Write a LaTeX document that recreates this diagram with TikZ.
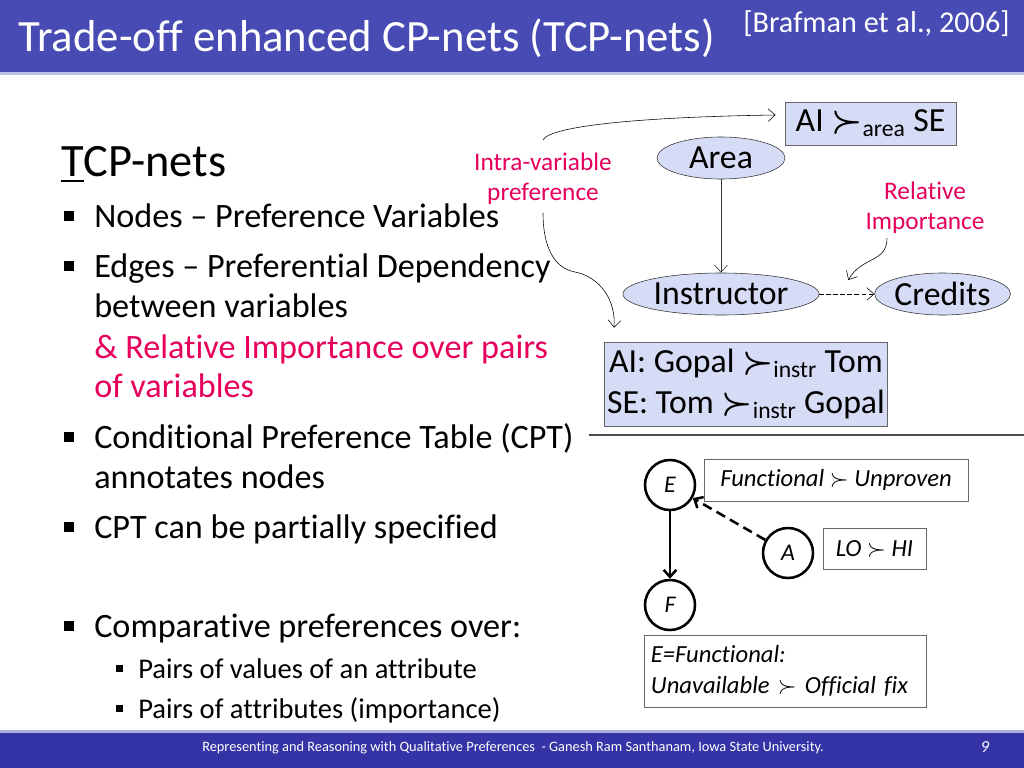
\documentclass[tikz,border=0pt]{standalone}
\usepackage{amsmath}
\usepackage{bm}
\usepackage{fontspec}
\setmainfont{Carlito}[Ligatures=NoCommon]
\usetikzlibrary{calc, positioning, arrows.meta, shapes.geometric}

\definecolor{barblue}{RGB}{72,75,180}
\definecolor{footblue}{RGB}{52,52,166}
\definecolor{nodeblue}{RGB}{214,220,245}
\definecolor{notepink}{RGB}{230,0,92}

\newcommand{\pref}{\mathrel{\bm{\succ}}}

\tikzset{
    var/.style={ellipse, draw=black!80, fill=nodeblue, inner sep=0pt, minimum height=1.05cm, font=\fontsize{24}{28}\selectfont},
    cpt/.style={draw=black!60, fill=nodeblue, inner sep=2pt, align=center, font=\fontsize{24}{29}\selectfont},
    note/.style={text=notepink, align=center, font=\fontsize{18}{21.3}\selectfont},
    attr/.style={circle, draw, line width=1.8pt, minimum size=1.25cm, inner sep=0pt, font=\fontsize{17}{20}\selectfont\itshape},
    tbl/.style={draw=black!60, inner sep=2pt, font=\fontsize{17.5}{21.5}\selectfont\itshape},
    item/.style={anchor=base west, inner sep=0pt, font=\fontsize{24.3}{28}\selectfont},
    subitem/.style={anchor=base west, inner sep=0pt, font=\fontsize{20.3}{24}\selectfont},
    tip/.style={-{Straight Barb[length=5pt,width=9pt]}}
}

\begin{document}
\begin{tikzpicture}[x=0.025cm, y=-0.025cm]
    \useasboundingbox (0,0) rectangle (1024,768);

    % title bar
    \fill[barblue] (0,0) rectangle (1024,72);
    \fill[barblue!35] (0,72) rectangle (1024,75);
    \node[anchor=base west, inner sep=0pt, text=white, font=\fontsize{31.8}{36}\selectfont] (title) at (18,52) {Trade-off enhanced CP-nets (TCP-nets)};
    \node[anchor=base west, inner sep=0pt, text=white, font=\fontsize{21.5}{26}\selectfont] (cite) at (743,33) {[Brafman et al., 2006]};

    % footer bar
    \fill[footblue!40] (0,730) rectangle (1024,733);
    \fill[footblue] (0,733) rectangle (1024,768);
    \node[text=white, font=\fontsize{10.2}{12}\selectfont] (foot) at (513,748) {Representing and Reasoning with Qualitative Preferences \ - Ganesh Ram Santhanam, Iowa State University.};
    \node[text=white, font=\fontsize{12}{14}\selectfont\itshape] (page) at (985,747) {9};

    % heading
    \node[anchor=base west, inner sep=0pt, font=\fontsize{33}{38}\selectfont] (head) at (61,176) {\underline{T}CP-nets};

    %draw bullets
    \foreach \y in {216,266,437,527,626}
        \fill (64,\y-5) rectangle (74,\y+5);
    \foreach \y in {668,708}
        \fill (116,\y-3.5) rectangle (123,\y+3.5);

    % bullet text
    \node[item] (b1) at (94,227) {Nodes -- Preference Variables};
    \node[item] (b2) at (94,277) {Edges -- Preferential Dependency};
    \node[item] (b2a) at (94,317) {between variables};
    \node[item, text=notepink] (b2b) at (94,358) {\& Relative Importance over pairs};
    \node[item, text=notepink] (b2c) at (94,397) {of variables};
    \node[item] (b3) at (94,448) {Conditional Preference Table (CPT)};
    \node[item] (b3a) at (94,488) {annotates nodes};
    \node[item] (b4) at (94,538) {CPT can be partially specified};
    \node[item] (b5) at (94,637) {Comparative preferences over:};
    \node[subitem] (s1) at (138,678) {Pairs of values of an attribute};
    \node[subitem] (s2) at (138,718) {Pairs of attributes (importance)};

    % TCP-net
    \node[var, minimum width=3.2cm] (area) at (721,158) {Area};
    \node[var, minimum width=4.9cm] (instr) at (721,294) {Instructor};
    \node[var, minimum width=3.22cm] (credits) at (942.5,294) {Credits};
    \node[cpt, minimum width=4.28cm, minimum height=1.08cm] (areacpt) at (870.5,123.5) {AI $\pref_{\text{area}}$ SE};
    \node[cpt, minimum width=7.0cm, minimum height=2.1cm] (instrcpt) at (746,384) {AI: Gopal $\pref_{\text{instr}}$ Tom\\SE: Tom $\pref_{\text{instr}}$ Gopal};

    \node[note] (intra) at (543,179) {Intra-variable\\preference};
    \node[note] (relimp) at (925,208) {Relative\\Importance};

    \draw[black!80, tip] (area) -- (instr);
    \draw[densely dashed, tip] (instr) -- (credits);

    %curved pointers
    \coordinate (intraTop) at (543,140);
    \coordinate (intraBot) at (543,213);
    \coordinate (riTail) at (887,238);
    \draw[tip] (intraTop) .. controls (550,126) and (640,117) .. ($(areacpt.west)+(-9,-8.5)$);
    \draw[tip] (intraBot) .. controls (543,245) and (553,268) .. (575,272) .. controls (600,277) and (616,300) .. ($(instrcpt.north west)+(10,-14)$);
    \draw[tip] (riTail) .. controls (887,263) and (862,256) .. ($(credits.west)+(-26,-14)$);

    % separator
    \draw[black!70, line width=0.9pt] (589,435) -- (1024,435);

    % bottom net
    \node[attr] (E) at (670,485) {E};
    \node[attr] (A) at (788,553) {A};
    \node[attr] (F) at (670,605) {F};
    \node[tbl, minimum width=6.6cm, minimum height=1.05cm] (ecpt) at (836,480) {Functional $\succ$ Unproven};
    \node[tbl, minimum width=2.58cm, minimum height=1.03cm] (acpt) at (874.5,548.5) {LO $\succ$ HI};
    \node[tbl, minimum width=7.05cm, minimum height=1.8cm, align=left, text width=6.7cm] (fcpt) at (785,671) {E=Functional:\\Unavailable $\succ$ Official fix};

    \draw[line width=1.8pt, tip] (E) -- (F);
    \draw[line width=1.8pt, dash pattern=on 7pt off 4pt, tip] (A) -- (E);

\end{tikzpicture}
\end{document}
